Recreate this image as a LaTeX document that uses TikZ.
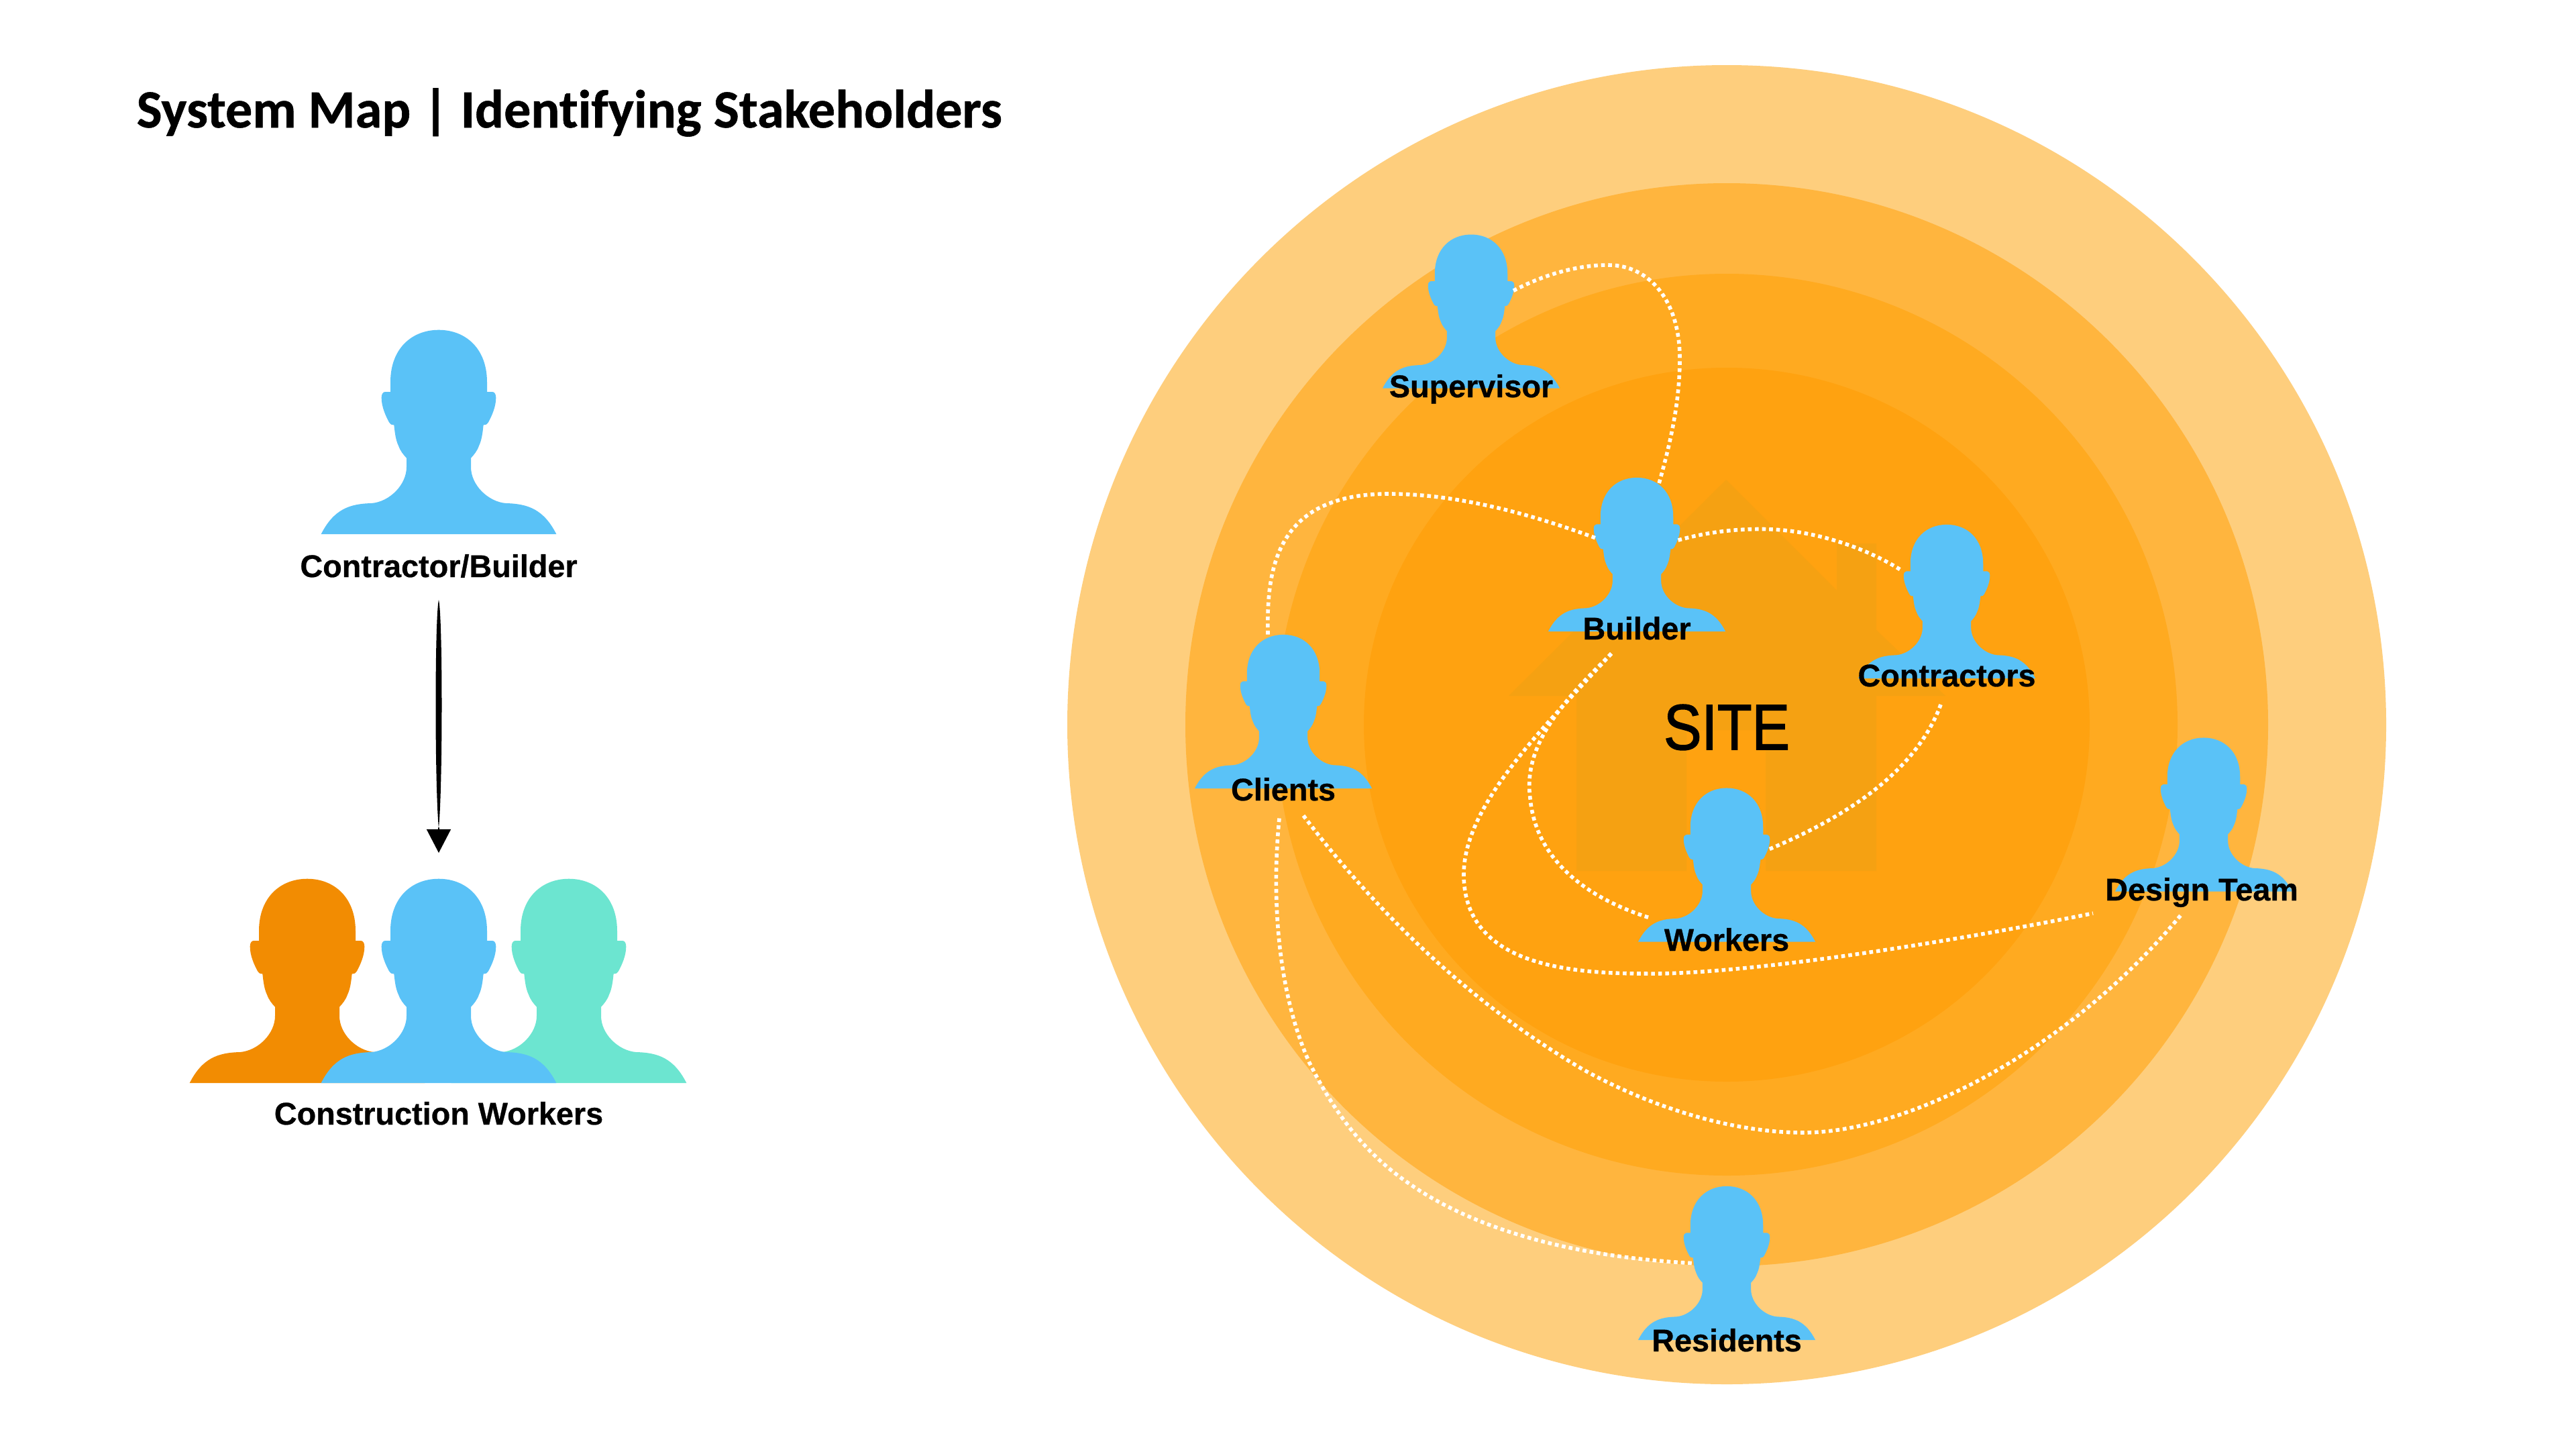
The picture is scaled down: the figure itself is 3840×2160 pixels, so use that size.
\documentclass[tikz,border=0pt]{standalone}
\usepackage{fontspec}
\setmainfont[BoldFeatures={FakeBold=0.6}]{Liberation Sans}
\newfontfamily\titlefont[Ligatures=CommonOff,BoldFeatures={FakeBold=0.7}]{Carlito}
\newfontfamily\sitefont[FakeStretch=0.88,FakeBold=1.6]{Liberation Sans}
\usetikzlibrary{calc,arrows.meta}
\definecolor{ringA}{HTML}{FECE7D}
\definecolor{ringB}{HTML}{FFB53E}
\definecolor{ringC}{HTML}{FFAA20}
\definecolor{ringD}{HTML}{FFA210}
\definecolor{housecol}{HTML}{F5A112}
\definecolor{pblue}{HTML}{5AC2F7}
\definecolor{porange}{HTML}{F28C02}
\definecolor{pteal}{HTML}{6CE5D0}
\def\personpath{(0,-913)
 .. controls (120,-913) and (216,-830) .. (216,-680) -- (216,-636) -- (240,-636)
 .. controls (250,-636) and (256,-625) .. (256,-610)
 .. controls (256,-570) and (238,-530) .. (222,-500)
 .. controls (218,-492) and (212,-488) .. (200,-488)
 .. controls (196,-450) and (192,-420) .. (180,-395)
 .. controls (172,-372) and (158,-355) .. (144,-340) -- (144,-300)
 .. controls (144,-220) and (220,-145) .. (300,-138)
 .. controls (400,-136) and (470,-110) .. (526,0) -- (-526,0)
 .. controls (-470,-110) and (-400,-136) .. (-300,-138)
 .. controls (-220,-145) and (-144,-220) .. (-144,-300) -- (-144,-340)
 .. controls (-158,-355) and (-172,-372) .. (-180,-395)
 .. controls (-192,-420) and (-196,-450) .. (-200,-488)
 .. controls (-212,-488) and (-218,-492) .. (-222,-500)
 .. controls (-238,-530) and (-256,-570) .. (-256,-610)
 .. controls (-256,-625) and (-250,-636) .. (-240,-636) -- (-216,-636) -- (-216,-680)
 .. controls (-216,-830) and (-120,-913) .. (0,-913) -- cycle}
\newcommand{\personicon}[5]{% name, x, bottom y, scale, colour
 \begin{scope}[shift={(#2,#3)},scale=#4]
 \fill[#5] \personpath;
 \node[ghost] (#1) at (0,-456) {};
 \end{scope}}
\tikzset{
 x=0.01cm,y=-0.01cm,
 ghost/.style={inner sep=0pt,outer sep=0pt,minimum size=0pt},
 personlabel/.style={anchor=base,inner sep=0pt,font=\fontsize{13.3}{16}\selectfont\bfseries},
 titlelabel/.style={anchor=base west,inner sep=0pt,font=\titlefont\fontsize{22.8}{28}\selectfont\bfseries},
 sitelabel/.style={anchor=base,inner sep=0pt,font=\sitefont\fontsize{27.3}{32}\selectfont},
 link/.style={draw=white,line width=1.6pt,dash pattern=on 1.6pt off 1.4pt},
 flow/.style={draw=black,line width=0.7pt,line cap=round,-{Triangle[length=10pt,width=10.2pt,sep=0pt]}},
}
\begin{document}
\begin{tikzpicture}
\useasboundingbox (0,0) rectangle (3840,2160);
\fill[white] (0,0) rectangle (3840,2160);
% rings
\fill[ringA] (2574,1080) circle [radius=983];
\fill[ringB] (2574,1080) circle [radius=807];
\fill[ringC] (2574,1080) circle [radius=672];
\fill[ringD] (2574,1080) ellipse [x radius=541,y radius=532];
% house
\fill[housecol] (2573,715) -- (2738,880) -- (2738,810) -- (2797,810) -- (2797,939) -- (2900,1037)
 -- (2797,1037) -- (2797,1298) -- (2632,1298) -- (2632,1088) -- (2514,1088) -- (2514,1298) -- (2350,1298) -- (2350,1037) -- (2249,1037) -- cycle;
% people
\personicon{cb}{654}{796}{0.3333}{pblue}
\personicon{cwL}{458}{1614}{0.3333}{porange}
\personicon{cwR}{848}{1614}{0.3333}{pteal}
\personicon{cw}{654}{1614}{0.3333}{pblue}
\personicon{supervisor}{2193}{578.7}{0.251}{pblue}
\personicon{builder}{2440}{941}{0.251}{pblue}
\personicon{contractors}{2902}{1011}{0.251}{pblue}
\personicon{workers}{2574}{1403.6}{0.251}{pblue}
\personicon{clients}{1913}{1175}{0.251}{pblue}
\personicon{design}{3285}{1328.6}{0.251}{pblue}
\personicon{residents}{2574}{1997}{0.251}{pblue}
% labels
\node[titlelabel] (title) at (203,190) {System Map | Identifying Stakeholders};
\node[personlabel] (cbl) at (654,860) {Contractor/Builder};
\node[personlabel] (cwl) at (654,1676) {Construction Workers};
\node[sitelabel] (site) at (2574,1117) {SITE};
% connector ends
\coordinate (supE) at ($(supervisor)+(63,-31)$);
\coordinate (bldN) at ($(builder)+(33,-106)$);
\coordinate (bldW) at ($(builder)+(-61,-24.5)$);
\coordinate (bldE) at ($(builder)+(61.5,-21.5)$);
\coordinate (bldS) at ($(builder)+(-38,147.5)$);
\coordinate (cliN) at ($(clients)+(-23,-115)$);
\coordinate (cliS) at ($(clients)+(-6,159)$);
\coordinate (cliT) at ($(clients)+(30,155)$);
\coordinate (conW) at ($(contractors)+(-66,-45.5)$);
\coordinate (conS) at ($(contractors)+(-9,153.5)$);
\coordinate (wkrE) at ($(workers)+(62,-23)$);
\coordinate (wkrW) at ($(workers)+(-114,79)$);
\coordinate (desW) at ($(design)+(-165,147)$);
\coordinate (desS) at ($(design)+(-33.5,149)$);
\coordinate (resW) at ($(residents)+(-51,0)$);
% links
\draw[link] (supE) .. controls (2300,410) and (2350,395) .. (2397,395) .. controls (2460,395) and (2504,450) .. (2504,534) .. controls (2504,600) and (2490,660) .. (bldN);
\draw[link] (cliN) .. controls (1888,850) and (1900,736) .. (2070,736) .. controls (2170,736) and (2280,765) .. (bldW);
\draw[link] (bldE) .. controls (2545,793) and (2585,788.5) .. (2625,788.5) .. controls (2700,788.5) and (2780,815) .. (conW);
\draw[link] (conS) .. controls (2860,1140) and (2770,1210) .. (wkrE);
\draw[link] (bldS) .. controls (2330,1045) and (2270,1110) .. (2281,1190) .. controls (2290,1285) and (2370,1340) .. (wkrW);
\draw[link] (bldS) .. controls (2300,1085) and (2182,1200) .. (2182,1303) .. controls (2182,1435) and (2330,1451) .. (2452,1451) .. controls (2600,1453) and (2900,1405) .. (desW);
\draw[link] (cliT) .. controls (2060,1370) and (2200,1500) .. (2360,1594) .. controls (2470,1655) and (2590,1688) .. (2688,1688) .. controls (2840,1688) and (3080,1570) .. (desS);
\draw[link] (cliS) .. controls (1895,1340) and (1905,1480) .. (1952,1584) .. controls (2000,1680) and (2050,1730) .. (2105,1767) .. controls (2220,1845) and (2380,1875) .. (resW);
% arrow
\coordinate (arrA) at ($(cbl.base)+(0,34)$);
\coordinate (arrB) at ($(cw)+(0,-191)$);
\coordinate (arrC) at ($(cw)+(0,-228)$);
\fill[black] (arrA) .. controls ($(arrA)+(6,25)$) and ($(arrA)+(6,280)$) .. (arrC) .. controls ($(arrA)+(-6,280)$) and ($(arrA)+(-6,25)$) .. (arrA) -- cycle;
\draw[flow] (arrC) -- (arrB);
% labels on top
\node[personlabel] (suplab) at (2193,592) {Supervisor};
\node[personlabel] (bldlab) at (2440,953) {Builder};
\node[personlabel] (conlab) at (2902,1023) {Contractors};
\node[personlabel] (wkrlab) at (2574,1417) {Workers};
\node[personlabel] (clilab) at (1913,1193) {Clients};
\node[personlabel] (deslab) at (3282,1342) {Design Team};
\node[personlabel] (reslab) at (2574,2014) {Residents};
\end{tikzpicture}
\end{document}
